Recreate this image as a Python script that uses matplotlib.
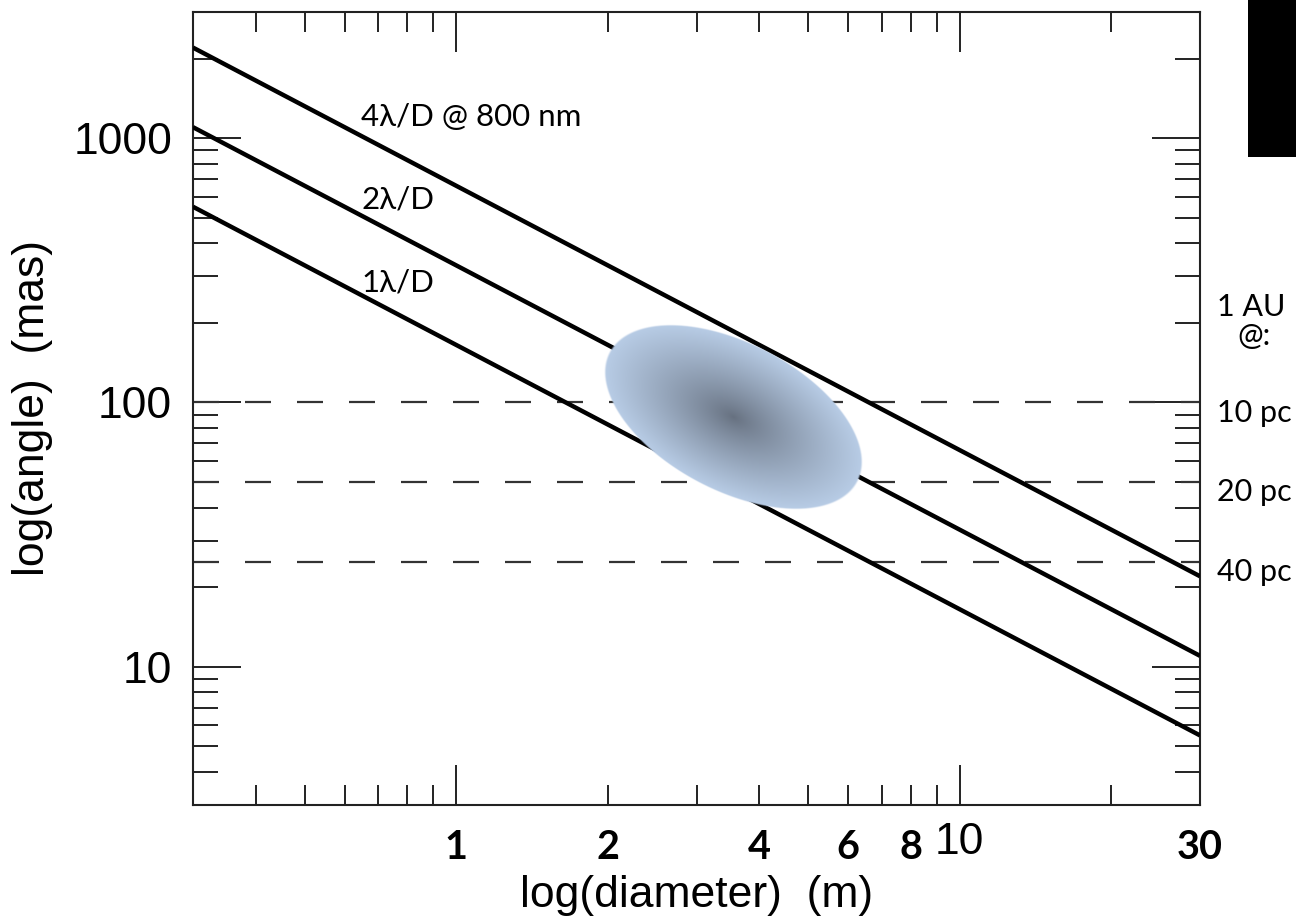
import numpy as np
import matplotlib
matplotlib.use("Agg")
import matplotlib.pyplot as plt
from matplotlib.patches import Ellipse, Rectangle
from matplotlib.ticker import LogLocator, NullFormatter, FixedLocator, FixedFormatter

# ---------------- data ----------------
diameter_m = [0.3, 30.0]
angle_4lod_mas = [2200.0, 22.0]
angle_2lod_mas = [1100.0, 11.0]
angle_1lod_mas = [550.0, 5.5]
line_labels = ["4λ/D @ 800 nm", "2λ/D", "1λ/D"]

sep_1au_mas = [100.0, 50.0, 25.0]
dist_labels = ["10 pc", "20 pc", "40 pc"]

xtick_major = [1, 10]
xtick_bold = [1, 2, 4, 6, 8, 30]
xtick_bold_labels = ["1", "2", "4", "6", "8", "30"]
ytick_major = [10, 100, 1000]
ytick_labels = ["10", "100", "1000"]

region_center = (3.55, 87.8)  # diameter (m), angle (mas)

# ---------------- figure ----------------
plt.rcParams['font.family'] = ['Liberation Sans', 'DejaVu Sans']
W, H = 1296, 919
fig = plt.figure(figsize=(W / 100, H / 100), dpi=100)
fig.patch.set_facecolor('white')

ax_l, ax_r, ax_t, ax_b = 193, 1200, 12, 805
ax = fig.add_axes([ax_l / W, 1 - ax_b / H, (ax_r - ax_l) / W, (ax_b - ax_t) / H])
ax.set_xscale('log')
ax.set_yscale('log')
ax.set_xlim(0.3, 30)
ax.set_ylim(3, 3000)

for vals in (angle_4lod_mas, angle_2lod_mas, angle_1lod_mas):
    ax.plot(diameter_m, vals, color='black', lw=3.2, solid_capstyle='butt', zorder=3)

dash_lw = 1.6
seg = 26 * 0.72 / dash_lw
for lev in sep_1au_mas:
    ax.axhline(lev, color='#333333', lw=dash_lw, linestyle=(0, (seg, seg)), zorder=2)

# ticks
ax.xaxis.set_major_locator(FixedLocator(xtick_major))
ax.xaxis.set_major_formatter(FixedFormatter(["" if v in xtick_bold else str(v) for v in xtick_major]))
ax.xaxis.set_minor_locator(LogLocator(base=10, subs=np.arange(2, 10), numticks=30))
ax.xaxis.set_minor_formatter(NullFormatter())
ax.yaxis.set_major_locator(FixedLocator(ytick_major))
ax.yaxis.set_major_formatter(FixedFormatter(ytick_labels))
ax.yaxis.set_minor_locator(LogLocator(base=10, subs=np.arange(2, 10), numticks=30))
ax.yaxis.set_minor_formatter(NullFormatter())

tc = '#222222'
ax.tick_params(axis='x', which='major', direction='in', length=28.8, width=1.4, color=tc,
               top=True, bottom=True, pad=12.2, labelsize=32)
ax.tick_params(axis='x', which='minor', direction='in', length=14.4, width=1.4, color=tc,
               top=True, bottom=True)
ax.tick_params(axis='y', which='major', direction='in', length=34.5, width=1.4, color=tc,
               left=True, right=True, pad=15, labelsize=32)
ax.tick_params(axis='y', which='minor', direction='in', length=18, width=1.4, color=tc,
               left=True, right=True)
for sp in ax.spines.values():
    sp.set_linewidth(1.5)
    sp.set_color(tc)

ax.set_xlabel("log(diameter)  (m)", fontsize=32)
ax.xaxis.set_label_coords(0.5, -(875 - ax_b) / (ax_b - ax_t))
ax.set_ylabel("log(angle)  (mas)", fontsize=32)
ax.yaxis.set_label_coords(-(ax_l - 53) / (ax_r - ax_l), 0.5)

# bold x tick labels (overlaid in the reference)
for v, lbl in zip(xtick_bold, xtick_bold_labels):
    ax.annotate(lbl, xy=(v, 0), xycoords=ax.get_xaxis_transform(),
                xytext=(0, -17.5), textcoords='offset points', ha='center', va='top',
                fontsize=28.5, family=['Lato', 'DejaVu Sans'], weight='bold',
                annotation_clip=False)

# line labels
lab_font = dict(fontsize=22.5, family=['Lato', 'DejaVu Sans'], ha='left', va='baseline', zorder=4)
ax.text(0.647, 1111, line_labels[0], **lab_font)
ax.text(0.647, 542, line_labels[1], **lab_font)
ax.text(0.647, 264, line_labels[2], **lab_font)

# right-hand distance labels
rfont = dict(fontsize=22, family=['Lato', 'DejaVu Sans'], va='baseline', ha='left',
             textcoords='offset points', annotation_clip=False)
for lev, lbl in zip(sep_1au_mas, dist_labels):
    ax.annotate(lbl, xy=(1, lev), xycoords=ax.get_yaxis_transform(), xytext=(12.2, -14), **rfont)
ax.annotate("1 AU", xy=(1, sep_1au_mas[0]), xycoords=ax.get_yaxis_transform(), xytext=(12.2, 62.6), **rfont)
ax.annotate("@:", xy=(1, sep_1au_mas[0]), xycoords=ax.get_yaxis_transform(), xytext=(26.6, 41.5), **rfont)

# shaded region (gradient ellipse) drawn in pixel space on an overlay axes
fig.canvas.draw()
cx, cy = ax.transData.transform(region_center)
a, b = 139.5, 73.5
ang = np.deg2rad(-27.4)
hw = np.sqrt((a * np.cos(ang)) ** 2 + (b * np.sin(ang)) ** 2) + 3
hh = np.sqrt((a * np.sin(ang)) ** 2 + (b * np.cos(ang)) ** 2) + 3
xs = np.linspace(cx - hw, cx + hw, int(4 * hw))
ys = np.linspace(cy - hh, cy + hh, int(4 * hh))
X, Y = np.meshgrid(xs, ys)
dx, dy = X - cx, Y - cy
u = dx * np.cos(ang) + dy * np.sin(ang)
v = -dx * np.sin(ang) + dy * np.cos(ang)
r = np.sqrt((u / a) ** 2 + (v / b) ** 2)
c0 = np.array([0.40, 0.44, 0.50])
c1 = np.array([0.72, 0.80, 0.90])
t = np.clip(r, 0, 1) ** 0.85
rgba = np.zeros(X.shape + (4,))
rgba[..., :3] = c0 + (c1 - c0) * t[..., None]
rgba[..., 3] = np.clip((1 - r) * b + 0.5, 0, 1)

ov = fig.add_axes([0, 0, 1, 1], zorder=5)
ov.imshow(rgba, extent=(xs[0], xs[-1], ys[0], ys[-1]), origin='lower',
          aspect='auto', interpolation='bilinear')
ov.set_xlim(0, W)
ov.set_ylim(0, H)
ov.axis('off')

# black block at top right (from the original slide)
fig.add_artist(Rectangle((1248 / W, 1 - 157 / H), 48 / W, 157 / H, transform=fig.transFigure,
                         facecolor='black', edgecolor='none', zorder=6))

fig.savefig("out.png", dpi=100, facecolor='white')
